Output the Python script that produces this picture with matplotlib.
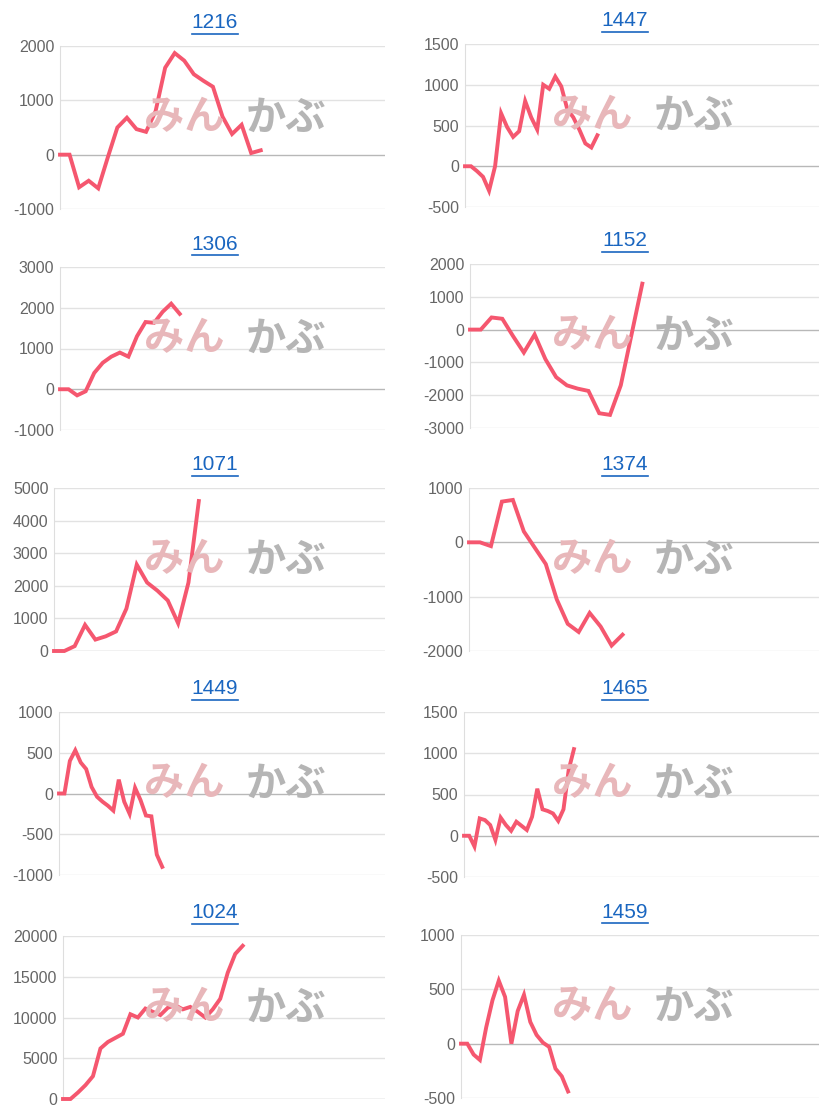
import matplotlib
matplotlib.use("Agg")
import matplotlib.pyplot as plt
from matplotlib.lines import Line2D

plt.rcParams['font.family'] = ['Liberation Sans', 'Noto Sans CJK JP', 'DejaVu Sans']
plt.rcParams['axes.unicode_minus'] = False

# ---- data ----
codes = ["1216", "1447", "1306", "1152", "1071", "1374", "1449", "1465", "1024", "1459"]

v1216 = [0, 0, -600, -480, -620, -50, 500, 680, 470, 420, 800, 1600, 1870, 1730,
         1480, 1360, 1250, 700, 380, 550, 30, 80]
v1447 = [0, 0, -60, -130, -300, 0, 650, 480, 360, 430, 800, 600, 450, 1000, 950,
         1100, 980, 700, 600, 450, 280, 230, 380]
v1306 = [0, 0, -150, -50, 400, 650, 800, 900, 800, 1300, 1650, 1630, 1900, 2100, 1850]
v1152 = [0, 0, 370, 330, -200, -700, -150, -900, -1450, -1700, -1800, -1870, -2550,
         -2600, -1700, -150, 1400]
v1071 = [0, 0, 150, 800, 350, 450, 600, 1300, 2650, 2100, 1850, 1550, 850, 2100, 4600]
v1374 = [0, 0, -70, 750, 780, 200, -100, -400, -1050, -1500, -1650, -1300, -1550,
         -1900, -1700]
v1449 = [0, 0, 400, 530, 380, 300, 80, -40, -100, -150, -210, 170, -100, -250, 70,
         -80, -270, -280, -750, -900]
v1465 = [0, 0, -130, 210, 190, 130, -50, 220, 130, 60, 170, 120, 70, 230, 570, 320,
         300, 270, 180, 320, 800, 1050]
v1024 = [0, 0, 800, 1700, 2800, 6200, 7000, 7500, 8000, 10400, 10000, 11100, 10700,
         10300, 11200, 11500, 11000, 11300, 10700, 10000, 11000, 12300, 15500, 17800, 18800]
v1459 = [0, 0, -100, -150, 150, 400, 580, 430, 0, 300, 450, 200, 80, 10, -30, -230,
         -300, -440]

series = [v1216, v1447, v1306, v1152, v1071, v1374, v1449, v1465, v1024, v1459]
slots = [34, 59, 38, 32.5, 32, 32, 60, 68, 43, 57]
yticks = [
    [-1000, 0, 1000, 2000],
    [-500, 0, 500, 1000, 1500],
    [-1000, 0, 1000, 2000, 3000],
    [-3000, -2000, -1000, 0, 1000, 2000],
    [0, 1000, 2000, 3000, 4000, 5000],
    [-2000, -1000, 0, 1000],
    [-1000, -500, 0, 500, 1000],
    [-500, 0, 500, 1000, 1500],
    [0, 5000, 10000, 15000, 20000],
    [-500, 0, 500, 1000],
]

# ---- layout in pixels (left, right, top, bottom) ----
W, H = 820, 1115
boxes = [
    (60, 385, 46, 209), (465, 820, 44, 207),
    (60, 385, 267, 430), (470, 820, 264, 428),
    (54, 385, 488, 651), (469, 820, 488, 651),
    (59, 385, 712, 875), (464, 820, 712, 877),
    (63, 385, 936, 1099), (461, 820, 935, 1098),
]

LINE = "#f5576f"
fig = plt.figure(figsize=(W / 100, H / 100), dpi=100)

for i, (code, vals) in enumerate(zip(codes, series)):
    l, r, t, b = boxes[i]
    ax = fig.add_axes([l / W, 1 - b / H, (r - l) / W, (b - t) / H])
    yt = yticks[i]
    ax.set_ylim(yt[0], yt[-1])
    ax.set_xlim(0, slots[i])
    ax.set_yticks(yt)
    ax.set_xticks([])
    for y in yt:
        ax.axhline(y, color="#b8b8b8" if y == 0 else "#e2e2e2", lw=1.0, zorder=1)
    for s in ["top", "right", "bottom"]:
        ax.spines[s].set_visible(False)
    ax.spines["left"].set_color("#dedede")
    ax.tick_params(axis="y", length=0, labelsize=11.5, labelcolor="#666666", pad=4)

    # watermark
    right_col = i % 2 == 1
    pink_x = 592 if right_col else 184
    gray_x = 694 if right_col else 286
    wy = t + 72
    fig.text(pink_x / W, 1 - wy / H, "みん", fontsize=29, fontweight="bold",
             color="#e8b7ba", ha="center", va="center", zorder=0,
             family=["Noto Sans CJK JP"])
    fig.text(gray_x / W, 1 - wy / H, "かぶ", fontsize=29, fontweight="bold",
             color="#b5b5b5", ha="center", va="center", zorder=0,
             family=["Noto Sans CJK JP"])

    ax.patch.set_alpha(0)
    ax.plot(range(len(vals)), vals, color=LINE, lw=2.8, zorder=3,
            solid_joinstyle="miter", clip_on=False)

    # title (blue, underlined)
    cx = 215 if not right_col else 625
    ty = t - 23
    fig.text(cx / W, 1 - ty / H, code, fontsize=15, color="#1a66c0",
             ha="center", va="center")
    fig.add_artist(Line2D([(cx - 23) / W, (cx + 23) / W],
                          [1 - (ty + 11) / H] * 2, color="#1a66c0", lw=1.2))

fig.savefig("out.png", dpi=100)
